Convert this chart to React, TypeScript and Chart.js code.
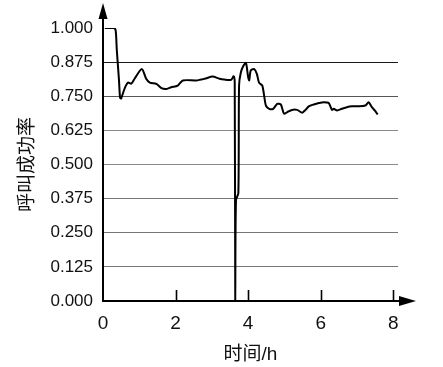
import React, { useEffect, useRef } from "react";
import { Chart, registerables } from "chart.js";

Chart.register(...registerables);

// ---- data ----
const timeHours = [
  0.05, 0.3, 0.35, 0.38, 0.44, 0.47, 0.5, 0.6, 0.69, 0.78, 0.87, 1.07, 1.19, 1.29, 1.47, 1.61,
  1.75, 1.88, 2.06, 2.2, 2.57, 2.8, 3.02, 3.21, 3.34, 3.53, 3.6, 3.63, 3.645, 3.665, 3.73, 3.75,
  3.8, 3.87, 3.94, 4.0, 4.03, 4.07, 4.16, 4.24, 4.3, 4.39, 4.44, 4.49, 4.58, 4.69, 4.8, 4.9,
  4.99, 5.08, 5.21, 5.35, 5.49, 5.58, 5.67, 5.81, 5.95, 6.08, 6.22, 6.31, 6.36, 6.45, 6.58,
  6.72, 6.86, 7.04, 7.23, 7.32, 7.41, 7.5, 7.57,
];
const successRate = [
  1.0, 1.0, 0.99, 0.92, 0.81, 0.745, 0.742, 0.78, 0.8, 0.796, 0.814, 0.85, 0.814, 0.8, 0.795, 0.78,
  0.777, 0.783, 0.789, 0.808, 0.808, 0.814, 0.822, 0.814, 0.811, 0.81, 0.823, 0.8, 0.0, 0.37, 0.395, 0.79,
  0.838, 0.862, 0.872, 0.82, 0.808, 0.844, 0.85, 0.832, 0.8, 0.789, 0.753, 0.716, 0.704, 0.704, 0.722, 0.72,
  0.686, 0.692, 0.7, 0.7, 0.69, 0.7, 0.713, 0.72, 0.725, 0.728, 0.725, 0.7, 0.704, 0.698, 0.704,
  0.71, 0.713, 0.713, 0.716, 0.728, 0.71, 0.696, 0.683,
];
const xTickValues = [0, 2, 4, 6, 8];
const yTickValues = [0, 0.125, 0.25, 0.375, 0.5, 0.625, 0.75, 0.875, 1.0];
const xTitle = "时间/h";
const yTitle = "呼叫成功率";

const FONT = "'Liberation Sans', 'Noto Sans CJK SC', sans-serif";

const gridColorFor = (v: number) => {
  if (Math.abs(v - 1) < 1e-6 || v === 0) return "rgba(0,0,0,0)";
  if (Math.abs(v - 0.875) < 1e-6) return "#1a1a1a";
  if (Math.abs(v - 0.75) < 1e-6) return "#555";
  if (Math.abs(v - 0.625) < 1e-6 || Math.abs(v - 0.5) < 1e-6) return "#8a8a8a";
  return "#777";
};

const axisArrows = {
  id: "axisArrows",
  afterDraw(chart: any) {
    const { ctx, chartArea, scales } = chart;
    const xs = scales.x;
    const ys = scales.y;
    const x0 = xs.getPixelForValue(0);
    const y0 = ys.getPixelForValue(0);
    ctx.save();
    ctx.strokeStyle = "#000";
    ctx.fillStyle = "#000";
    ctx.lineWidth = 2;
    // y axis extension + arrow
    ctx.beginPath();
    ctx.moveTo(x0, chartArea.top);
    ctx.lineTo(x0, 16);
    ctx.stroke();
    ctx.beginPath();
    ctx.moveTo(x0, 3);
    ctx.lineTo(x0 - 4.5, 19);
    ctx.lineTo(x0 + 4.5, 19);
    ctx.closePath();
    ctx.fill();
    // x axis extension + arrow
    ctx.beginPath();
    ctx.moveTo(chartArea.right, y0);
    ctx.lineTo(402, y0);
    ctx.stroke();
    ctx.beginPath();
    ctx.moveTo(416, y0);
    ctx.lineTo(399, y0 - 5);
    ctx.lineTo(399, y0 + 5);
    ctx.closePath();
    ctx.fill();
    // inward tick marks on x axis
    ctx.lineWidth = 1.6;
    for (const v of xTickValues) {
      if (v === 0) continue;
      const px = Math.round(xs.getPixelForValue(v)) + 0.5;
      ctx.beginPath();
      ctx.moveTo(px, y0);
      ctx.lineTo(px, y0 - 11);
      ctx.stroke();
    }
    ctx.restore();
  },
};

export default function App() {
  const canvasRef = useRef<HTMLCanvasElement | null>(null);

  useEffect(() => {
    if (!canvasRef.current) return;
    const points = timeHours.map((t, i) => ({ x: t, y: successRate[i] }));
    const chart = new Chart(canvasRef.current, {
      type: "line",
      data: {
        datasets: [
          {
            data: points,
            borderColor: "#000",
            borderWidth: 2,
            pointRadius: 0,
            fill: false,
            tension: 0.25,
          },
        ],
      },
      plugins: [axisArrows],
      options: {
        animation: false,
        responsive: true,
        maintainAspectRatio: false,
        layout: { padding: { top: 28, right: 45, bottom: 0, left: 0 } },
        plugins: { legend: { display: false }, tooltip: { enabled: false } },
        scales: {
          x: {
            type: "linear",
            min: 0,
            max: 8.13,
            afterBuildTicks: (scale: any) => {
              scale.ticks = xTickValues.map((v) => ({ value: v }));
            },
            afterFit: (scale: any) => {
              scale.height = 66;
            },
            grid: { display: false },
            border: { display: true, color: "#000", width: 2 },
            ticks: {
              color: "#111",
              padding: 3,
              maxRotation: 0,
              font: { family: FONT, size: 19 },
              callback: (v: any) => String(v),
            },
            title: {
              display: true,
              text: xTitle,
              color: "#111",
              font: { family: FONT, size: 19 },
              padding: { top: 0, bottom: 1 },
            },
          },
          y: {
            type: "linear",
            min: 0,
            max: 1,
            afterBuildTicks: (scale: any) => {
              scale.ticks = yTickValues.map((v) => ({ value: v }));
            },
            afterFit: (scale: any) => {
              scale.width = 103;
            },
            grid: {
              drawTicks: false,
              lineWidth: 1,
              color: (ctx: any) => gridColorFor(ctx.tick ? ctx.tick.value : 0),
            },
            border: { display: true, color: "#000", width: 2 },
            ticks: {
              color: "#111",
              padding: 10,
              font: { family: FONT, size: 17 },
              callback: (v: any) => Number(v).toFixed(3),
            },
            title: {
              display: true,
              text: yTitle,
              color: "#111",
              font: { family: FONT, size: 19 },
              padding: { top: 16, bottom: 0 },
            },
          },
        },
      },
    } as any);
    return () => chart.destroy();
  }, []);

  return (
    <div style={{ position: "absolute", left: 0, top: 0, width: 443, height: 367, background: "#fff" }}>
      <canvas ref={canvasRef} />
    </div>
  );
}
